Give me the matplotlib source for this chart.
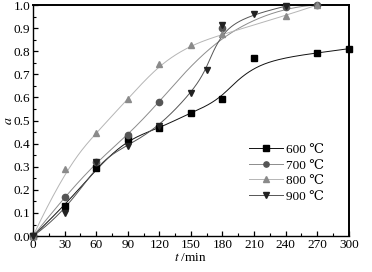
import numpy as np
import matplotlib
matplotlib.use('Agg')
import matplotlib.pyplot as plt
from matplotlib.ticker import MultipleLocator

plt.rcParams['font.family'] = ['Liberation Serif', 'DejaVu Serif']
plt.rcParams['mathtext.fontset'] = 'stix'

# data
t600 = [0, 30, 60, 90, 120, 150, 180, 210, 270, 300]
a600 = [0, 0.13, 0.293, 0.42, 0.467, 0.534, 0.592, 0.769, 0.791, 0.811]
t700 = [0, 30, 60, 90, 120, 180, 240, 270]
a700 = [0, 0.17, 0.32, 0.437, 0.579, 0.9, 0.993, 1.0]
t800 = [0, 30, 60, 90, 120, 150, 180, 240, 270]
a800 = [0, 0.289, 0.447, 0.593, 0.743, 0.827, 0.874, 0.954, 1.0]
t900 = [0, 30, 60, 90, 120, 150, 165, 180, 210, 240]
a900 = [0, 0.098, 0.32, 0.391, 0.475, 0.618, 0.719, 0.913, 0.961, 0.995]

labels = ['600 ℃', '700 ℃', '800 ℃', '900 ℃']
markers = ['s', 'o', '^', 'v']
mcolors = ['#000000', '#555555', '#8a8a8a', '#222222']
lcolors = ['#111111', '#8c8c8c', '#b5b5b5', '#555555']


def bspline(x, y, n=300):
    # clamped cubic B-spline through the control points (like Origin's B-spline line)
    P = np.column_stack([x, y]).astype(float)
    k = 3
    m = len(P)
    knots = np.concatenate([np.zeros(k), np.linspace(0, 1, m - k + 1), np.ones(k)])
    u = np.linspace(0, 1, n)
    u[-1] = 1 - 1e-9
    N = np.zeros((n, len(knots) - 1))
    for i in range(len(knots) - 1):
        N[:, i] = (u >= knots[i]) & (u < knots[i + 1])
    for d in range(1, k + 1):
        Nn = np.zeros((n, len(knots) - 1 - d))
        for i in range(len(knots) - 1 - d):
            a = 0
            b = 0
            if knots[i + d] != knots[i]:
                a = (u - knots[i]) / (knots[i + d] - knots[i]) * N[:, i]
            if knots[i + d + 1] != knots[i + 1]:
                b = (knots[i + d + 1] - u) / (knots[i + d + 1] - knots[i + 1]) * N[:, i + 1]
            Nn[:, i] = a + b
        N = Nn
    C = N @ P
    return C[:, 0], C[:, 1]


fig = plt.figure(figsize=(3.72, 2.72), dpi=100)
ax = fig.add_axes([0.0887, 0.132, 0.849, 0.8496])

series = [(t600, a600), (t700, a700), (t800, a800), (t900, a900)]
for (t, a), lab, mk, mc, lc in zip(series, labels, markers, mcolors, lcolors):
    xs, ys = bspline(t, a)
    ax.plot(xs, ys, color=lc, lw=0.7, zorder=2)
    ax.plot(t, a, ls='none', marker=mk, ms=4.5, color=mc, mec=mc, zorder=3, clip_on=False)
    ax.plot([], [], color=lc, lw=0.7, marker=mk, ms=3.8, mfc=mc, mec=mc, label=lab)

ax.set_xlim(0, 300)
ax.set_ylim(0, 1.0)
ax.xaxis.set_major_locator(MultipleLocator(30))
ax.xaxis.set_minor_locator(MultipleLocator(15))
ax.yaxis.set_major_locator(MultipleLocator(0.1))
ax.yaxis.set_minor_locator(MultipleLocator(0.05))
ax.yaxis.set_major_formatter(matplotlib.ticker.FormatStrFormatter('%.1f'))
ax.tick_params(which='both', direction='in', top=False, right=False, labelsize=9.5, pad=2)
ax.tick_params(which='major', length=3.5, width=0.9)
ax.tick_params(which='minor', length=2, width=0.8)
for s in ['top', 'right']:
    ax.spines[s].set_linewidth(1.4)
for s in ['left', 'bottom']:
    ax.spines[s].set_linewidth(1.0)

ax.set_xlabel('$t$ /min', fontsize=9.5, labelpad=1)
ax.set_ylabel(r'$a$', fontsize=10)
ax.yaxis.set_label_coords(-0.058, 0.5)

ax.legend(loc='lower right', bbox_to_anchor=(0.95, 0.105), frameon=False, fontsize=9.5,
          handlelength=2.6, handletextpad=0.2, labelspacing=0.25, borderpad=0.2)

fig.savefig('out.png', dpi=100)
